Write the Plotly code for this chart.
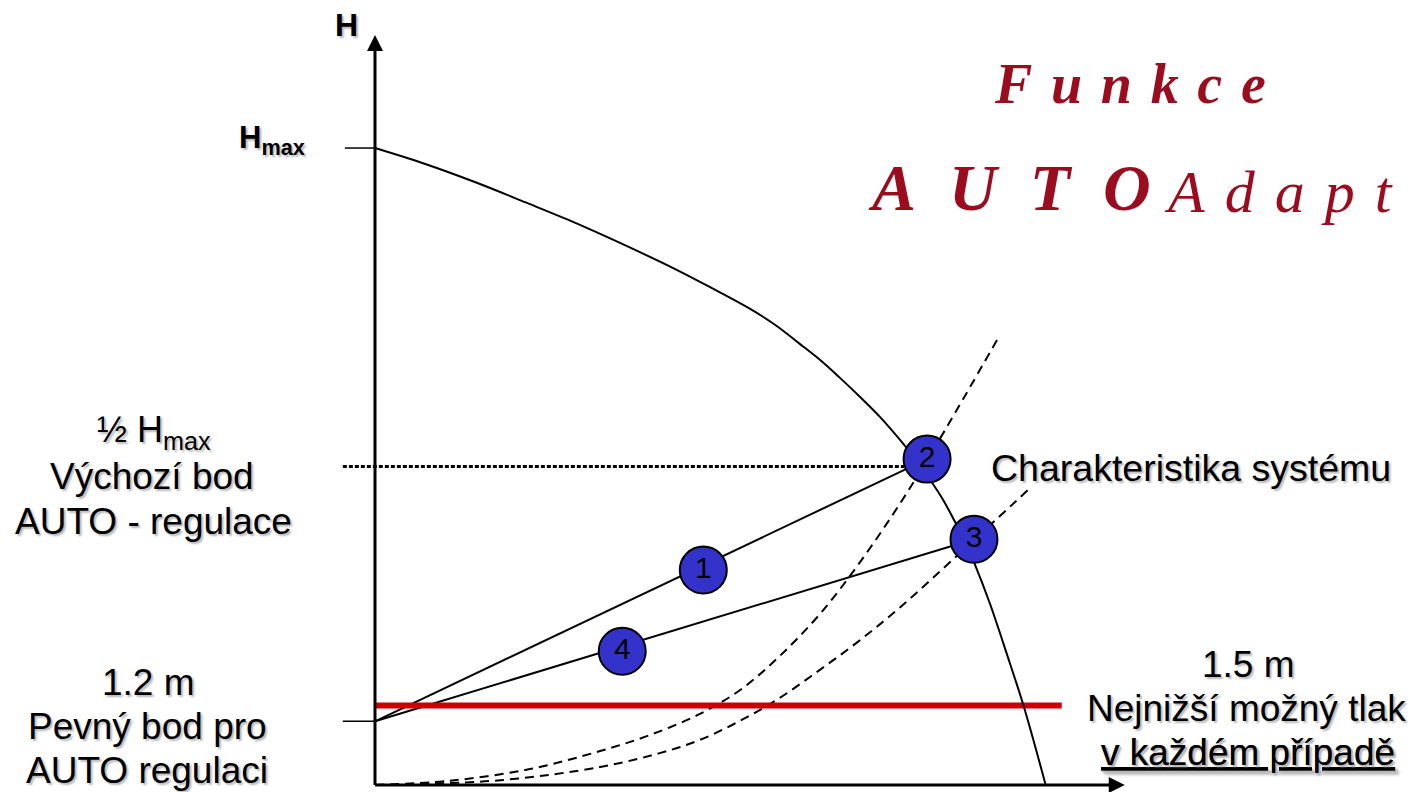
import plotly.graph_objects as go

# ---- data (Q in flow units, H in metres) ----
pump_q = [0, 0.75, 1.49, 2.24, 2.99, 3.73, 4.48, 5.03, 5.60, 5.97, 6.34, 6.64, 6.94, 7.24, 7.54,
          7.91, 8.10, 8.28, 8.48, 8.66, 8.81, 8.94, 9.18, 9.43, 9.69, 10.01]
pump_h = [12.00, 11.70, 11.36, 10.98, 10.59, 10.17, 9.72, 9.36, 8.97, 8.67, 8.31, 8.01, 7.67, 7.31, 6.93,
          6.39, 6.09, 5.76, 5.37, 4.95, 4.58, 4.20, 3.41, 2.47, 1.45, 0]

sys_a_q = [0, 1.12, 2.31, 3.36, 4.10, 4.85, 5.45, 6.04, 6.64, 7.24, 7.84, 8.43, 9.30]
sys_a_h = [0, 0.08, 0.30, 0.64, 0.94, 1.34, 1.79, 2.43, 3.22, 4.20, 5.31, 6.52, 8.42]

sys_b_q = [0, 1.87, 3.36, 4.25, 4.85, 5.45, 6.04, 6.64, 7.24, 7.84, 8.73, 9.79]
sys_b_h = [0, 0.09, 0.34, 0.60, 0.85, 1.21, 1.64, 2.17, 2.73, 3.35, 4.37, 5.61]

h_max = 12.0
h_half = 6.0
h_fixed = 1.2
h_min = 1.5
q_min_end = 10.25

pt_labels = ["1", "2", "3", "4"]
pt_q = [4.90, 8.24, 8.94, 3.69]
pt_h = [4.05, 6.14, 4.63, 2.52]

q_axis_tip = 11.19
h_axis_tip = 14.13

W, H = 1416, 792
ARIAL = "Arial, Liberation Sans, sans-serif"
SHADOW = "2px 2px 2px #b8b8b8"

fig = go.Figure()


def line(x, y, width=2, dash=None, color="black", shape="linear"):
    fig.add_trace(go.Scatter(x=x, y=y, mode="lines", hoverinfo="skip",
                             line=dict(color=color, width=width, dash=dash, shape=shape, smoothing=1.0)))


# system characteristics
line(sys_a_q, sys_a_h, width=2, dash="9px,6px", shape="spline")
line(sys_b_q, sys_b_h, width=2, dash="9px,6px", shape="spline")

# AUTO regulation lines from fixed point
line([0, pt_q[1]], [h_fixed, pt_h[1]], width=2)
line([0, pt_q[2]], [h_fixed, pt_h[2]], width=2)

# half Hmax dotted line
line([-0.48, pt_q[1]], [h_half, h_half], width=3, dash="4px,2px")

# minimum pressure
line([0, q_min_end], [h_min, h_min], width=6, color="#CC0000")

# pump curve
line(pump_q, pump_h, width=2, shape="spline")

# axes
line([0, 0], [0, h_axis_tip - 0.25], width=3)
line([0, q_axis_tip - 0.2], [0, 0], width=3)
fig.add_trace(go.Scatter(x=[0, q_axis_tip], y=[h_axis_tip, 0], mode="markers", hoverinfo="skip",
                         marker=dict(symbol=["arrow-up", "arrow-right"], size=16, color="black")))

# ticks
line([-0.45, 0], [h_max, h_max], width=1.5)
line([-0.48, 0], [h_fixed, h_fixed], width=1.5)

# operating points
fig.add_trace(go.Scatter(x=pt_q, y=pt_h, mode="markers+text", text=pt_labels,
                         textposition="middle center", cliponaxis=False, hoverinfo="skip",
                         textfont=dict(family=ARIAL, size=30, color="black"),
                         marker=dict(size=47, color="#3333CC", line=dict(color="black", width=2))))


def label(text, x, y, size=37, bold=False, shadow=True, under=False, color="black", family=ARIAL, style="normal"):
    fig.add_annotation(x=x / W, y=1 - y / H, xref="paper", yref="paper", text=text,
                       showarrow=False, xanchor="center", yanchor="middle",
                       font=dict(family=family, size=size, color=color,
                                 weight="bold" if bold else "normal", style=style,
                                 shadow=SHADOW if shadow else "none",
                                 lineposition="under" if under else "none"))


label("H", 346, 25, size=32, bold=True)
label("H<sub>max</sub>", 272, 140, size=31, bold=True)

label("½ H<sub>max</sub>", 154, 432, size=36)
label("Výchozí bod", 152, 476)
label("AUTO - regulace", 153, 521)

label("1.2 m", 148, 682)
label("Pevný bod pro", 147, 726)
label("AUTO regulaci", 147, 770)

label("Charakteristika systému", 1191, 468, size=37.5)

label("1.5 m", 1248, 664)
label("Nejnižší možný tlak", 1246, 708)
label("v každém případě", 1248, 752, under=True)

TITLE = "#9B0D1E"
SERIF = "Liberation Serif, Times New Roman, serif"
label("F\u2004u\u2004n\u2004k\u2004c\u2004e", 1130, 84, size=56, bold=True, shadow=False,
      color=TITLE, family=SERIF, style="italic")
label("A\u2002U\u2002T\u2002O", 1010, 188, size=66, bold=True, shadow=False,
      color=TITLE, family=SERIF, style="italic")
label("A\u2004d\u2004a\u2004p\u2004t", 1278, 192, size=60, shadow=False, color=TITLE, family=SERIF, style="italic")

fig.update_layout(
    width=W, height=H, autosize=False,
    margin=dict(l=0, r=0, t=0, b=0),
    paper_bgcolor="white", plot_bgcolor="white",
    showlegend=False,
    xaxis=dict(range=[-375 / 67, (W - 375) / 67], visible=False, fixedrange=True),
    yaxis=dict(range=[-7 / 53.08, 785 / 53.08], visible=False, fixedrange=True),
)

fig.write_html("out.html", config={"displayModeBar": False},
               post_script="document.body.style.margin='0';document.body.style.overflow='hidden';")
